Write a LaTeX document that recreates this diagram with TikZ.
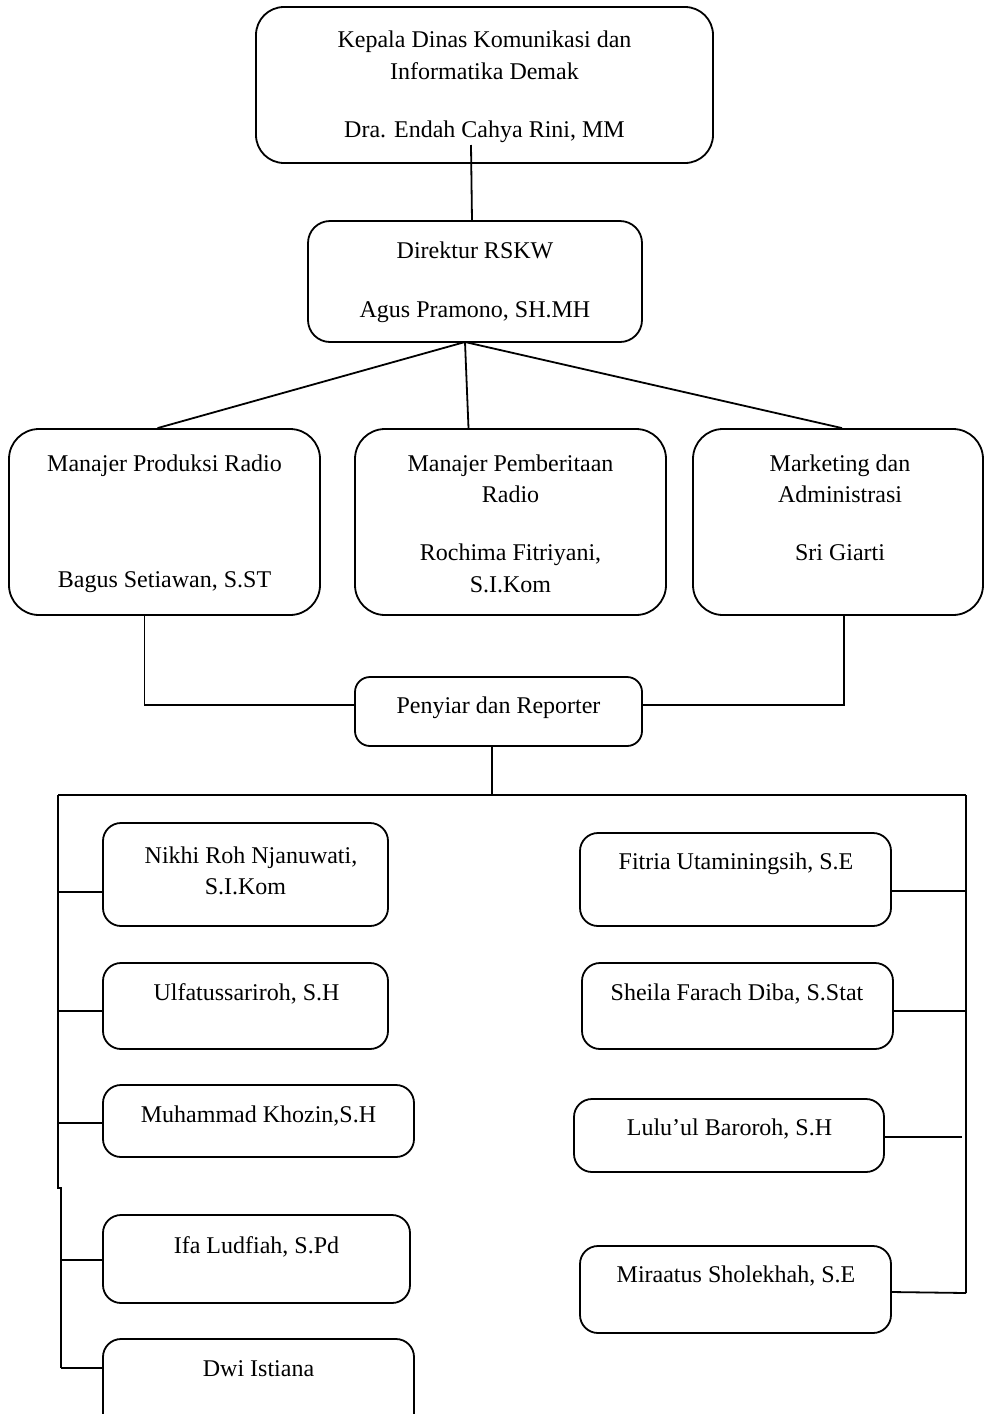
\documentclass[tikz,border=0pt]{standalone}
\usepackage{fontspec}
\setmainfont{Liberation Serif}
\usetikzlibrary{calc}
\begin{document}
\begin{tikzpicture}[x=1pt,y=-1pt,
  box/.style={draw, line width=1.8pt, rounded corners=#1, inner sep=0pt},
  box/.default=18pt,
  txt/.style={anchor=base, inner sep=0pt, font=\fontsize{24}{30}\selectfont},
  conn/.style={line width=1.8pt}]
\useasboundingbox (0,0) rectangle (985,1414);
\clip (0,0) rectangle (985,1414);

% ---------- boxes ----------
\node[box=28pt, minimum width=457, minimum height=156] (kepala) at (484.5,85) {};
\node[box=22pt, minimum width=334, minimum height=121] (direktur) at (475,281.5) {};
\node[box=30pt, minimum width=311, minimum height=186] (prod) at (164.5,522) {};
\node[box=30pt, minimum width=311, minimum height=186] (berita) at (510.5,522) {};
\node[box=30pt, minimum width=290, minimum height=186] (mark) at (838,522) {};
\node[box=15pt, minimum width=287, minimum height=69] (penyiar) at (498.5,711.5) {};
\node[box, minimum width=285, minimum height=103] (nikhi) at (245.5,874.5) {};
\node[box, minimum width=285, minimum height=86] (ulfa) at (245.5,1006) {};
\node[box, minimum width=311, minimum height=72] (khozin) at (258.5,1121) {};
\node[box, minimum width=307, minimum height=88] (ifa) at (256.5,1259) {};
\node[box, minimum width=311, minimum height=101] (dwi) at (258.5,1389.5) {};
\node[box, minimum width=311, minimum height=93] (fitria) at (735.5,879.5) {};
\node[box, minimum width=311, minimum height=86] (sheila) at (737.5,1006) {};
\node[box, minimum width=310, minimum height=73] (lulu) at (729,1135.5) {};
\node[box, minimum width=311, minimum height=87] (mira) at (735.5,1289.5) {};

% ---------- texts ----------
\node[txt] (kepala-a) at (484.5,47) {Kepala Dinas Komunikasi dan};
\node[txt] (kepala-b) at (484.5,79) {Informatika Demak};
\node[txt] (kepala-c) at (484.5,137) {Dra. Endah Cahya Rini, MM};
\node[txt] (direktur-a) at (475,258) {Direktur RSKW};
\node[txt] (direktur-b) at (475,317) {Agus Pramono, SH.MH};
\node[txt] (prod-a) at (164.5,471) {Manajer Produksi Radio};
\node[txt] (prod-b) at (164.5,587) {Bagus Setiawan, S.ST};
\node[txt] (berita-a) at (510.5,471) {Manajer Pemberitaan};
\node[txt] (berita-b) at (510.5,502) {Radio};
\node[txt] (berita-c) at (510.5,560) {Rochima Fitriyani,};
\node[txt] (berita-d) at (510.5,592) {S.I.Kom};
\node[txt] (mark-a) at (840,471) {Marketing dan};
\node[txt] (mark-b) at (840,502) {Administrasi};
\node[txt] (mark-c) at (840,560) {Sri Giarti};
\node[txt] (penyiar-a) at (498.5,713) {Penyiar dan Reporter};
\node[txt] (nikhi-a) at (251,863) {Nikhi Roh Njanuwati,};
\node[txt] (nikhi-b) at (245.5,894) {S.I.Kom};
\node[txt] (ulfa-a) at (246.5,1000) {Ulfatussariroh, S.H};
\node[txt] (khozin-a) at (258.5,1122) {Muhammad Khozin,S.H};
\node[txt] (ifa-a) at (256.5,1253) {Ifa Ludfiah, S.Pd};
\node[txt] (dwi-a) at (258.5,1376) {Dwi Istiana};
\node[txt] (fitria-a) at (736,869) {Fitria Utaminingsih, S.E};
\node[txt] (sheila-a) at (737,1000) {Sheila Farach Diba, S.Stat};
\node[txt] (lulu-a) at (729.5,1135) {Lulu’ul Baroroh, S.H};
\node[txt] (mira-a) at (736,1282) {Miraatus Sholekhah, S.E};

% ---------- coordinates ----------
\coordinate (kd0) at (471,145);
\coordinate (kd1) at (472,221);
\coordinate (dsrc) at (465,342);
\coordinate (busC) at (492,795);
\coordinate (busL) at (58,795);
\coordinate (busR) at (966,795);
\coordinate (lj1) at (58,1188);
\coordinate (lj2) at (61,1188);
\coordinate (lend) at (61,1368);
\coordinate (rend) at (966,1293);
\coordinate (cn) at (58,892);
\coordinate (cu) at (58,1011);
\coordinate (ck) at (58,1123);
\coordinate (ci) at (61,1260);
\coordinate (cd) at (61,1368);
\coordinate (cf) at (966,891);
\coordinate (cs) at (966,1011);
\coordinate (cl) at (962,1137);
\coordinate (cm) at (891,1292);

% ---------- connectors ----------
\draw[conn] (kd0) -- (kd1);
\draw[conn] (dsrc) -- ($(prod.north)+(-7,0)$);
\draw[conn] (dsrc) -- ($(berita.north)+(-42,0)$);
\draw[conn] (dsrc) -- ($(mark.north)+(4,0)$);
\draw[conn] ($(prod.south)+(-20,0)$) |- ($(penyiar.west)+(0,-6.5)$);
\draw[conn] ($(mark.south)+(5.6,0)$) |- ($(penyiar.east)+(0,-6.5)$);
\draw[conn] ($(penyiar.south)+(-6.5,0)$) -- (busC);
\draw[conn] (busL) -- (busR);
\draw[conn] (busL) -- (lj1) -- (lj2) -- (lend);
\draw[conn] (busR) -- (rend);
\draw[conn] (cn) -- (cn -| nikhi.west);
\draw[conn] (cu) -- (cu -| ulfa.west);
\draw[conn] (ck) -- (ck -| khozin.west);
\draw[conn] (ci) -- (ci -| ifa.west);
\draw[conn] (cd) -- (cd -| dwi.west);
\draw[conn] (cf) -- (cf -| fitria.east);
\draw[conn] (cs) -- (cs -| sheila.east);
\draw[conn] (cl) -- (cl -| lulu.east);
\draw[conn] (cm) -- (rend);
\end{tikzpicture}
\end{document}
